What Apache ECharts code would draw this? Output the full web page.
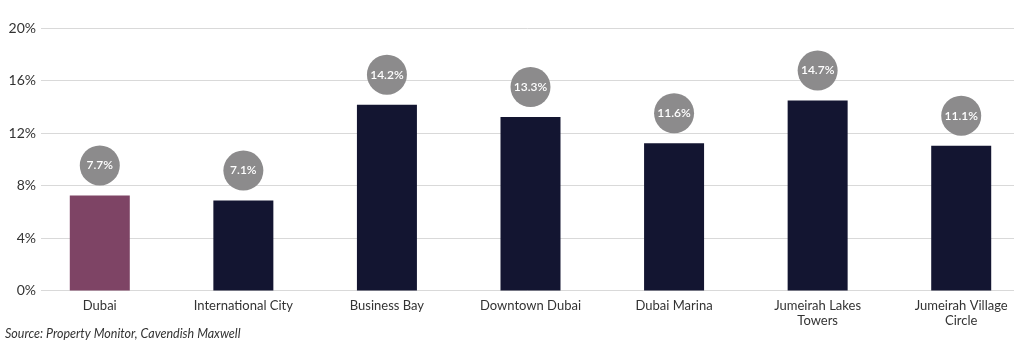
<!DOCTYPE html>
<html>
<head>
<meta charset="utf-8">
<script src="https://cdn.jsdelivr.net/npm/echarts@6/dist/echarts.min.js"></script>
<style>html,body{margin:0;padding:0;background:#fff;overflow:hidden;width:1024px;height:345px}#c{width:1033px;height:345px}</style>
</head>
<body>
<div id="c"></div>
<script>
var categories = ['Dubai', 'International City', 'Business Bay', 'Downtown Dubai', 'Dubai Marina', 'Jumeirah Lakes\nTowers', 'Jumeirah Village\nCircle'];
var barValues = [7.24, 6.85, 14.16, 13.22, 11.22, 14.47, 11.03];
var labelTexts = ['7.7%', '7.1%', '14.2%', '13.3%', '11.6%', '14.7%', '11.1%'];
var yTicks = [0, 4, 8, 12, 16, 20];

var chart = echarts.init(document.getElementById('c'));
var FONT = 'Lato, "Open Sans", sans-serif';
var data = barValues.map(function (v, i) {
  return {
    value: v,
    itemStyle: { color: i === 0 ? '#7e4465' : '#131531' }
  };
});
chart.setOption({
  animation: false,
  grid: [
    { left: 41, right: 19, top: 28, bottom: 54.5 },
    { left: 28, right: 0, top: 28, bottom: 54.5 }
  ],
  xAxis: [
    { type: 'category', gridIndex: 0, data: categories, show: false },
    {
      type: 'category', gridIndex: 1, data: categories,
      axisLine: { show: false }, axisTick: { show: false },
      axisLabel: { color: '#333', fontSize: 13, fontFamily: FONT, lineHeight: 15, margin: 8, interval: 0 }
    }
  ],
  yAxis: [
    {
      type: 'value', gridIndex: 0, min: yTicks[0], max: yTicks[yTicks.length - 1], interval: 4,
      axisLine: { show: false }, axisTick: { show: false },
      axisLabel: { color: '#333', fontSize: 14, fontFamily: FONT, margin: 5, formatter: '{value}%' },
      splitLine: { lineStyle: { color: '#d9d9d9', width: 1 } }
    },
    { type: 'value', gridIndex: 1, min: 0, max: 20, interval: 4, show: false }
  ],
  series: [{
    type: 'bar',
    xAxisIndex: 1, yAxisIndex: 1,
    barWidth: 60,
    data: data,
    label: {
      show: true,
      position: 'top',
      distance: 10,
      formatter: function (p) { return labelTexts[p.dataIndex]; },
      backgroundColor: '#8c8b8c',
      borderRadius: 20,
      width: 40, height: 40,
      lineHeight: 40,
      align: 'center',
      color: '#fff',
      fontSize: 12,
      fontWeight: 600,
      fontFamily: FONT
    }
  }],
  graphic: [{
    type: 'text', left: 5, top: 327,
    style: { text: 'Source: Property Monitor, Cavendish Maxwell', fill: '#333', font: 'italic 12.5px ' + FONT }
  }]
});
</script>
</body>
</html>
